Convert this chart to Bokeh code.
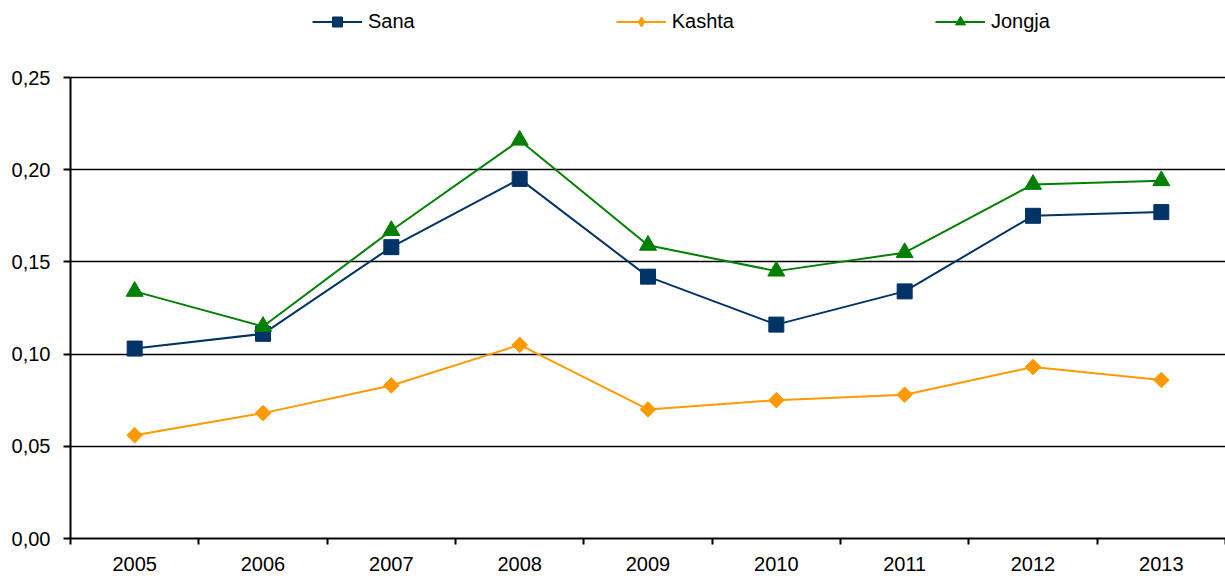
from bokeh.plotting import figure
from bokeh.embed import file_html
from bokeh.resources import INLINE
from bokeh.models import (Range1d, FixedTicker, CustomJSTickFormatter, Legend,
                          LegendItem, PrintfTickFormatter)
import math

years = [2005, 2006, 2007, 2008, 2009, 2010, 2011, 2012, 2013]
sana = [0.103, 0.111, 0.158, 0.195, 0.142, 0.116, 0.134, 0.175, 0.177]
kashta = [0.056, 0.068, 0.083, 0.105, 0.070, 0.075, 0.078, 0.093, 0.086]
jongja = [0.134, 0.115, 0.167, 0.216, 0.159, 0.145, 0.155, 0.192, 0.194]
y_ticks = [0.0, 0.05, 0.10, 0.15, 0.20, 0.25]

FONT = "Liberation Sans"
FS = "20px"

# frame covers the full height above the x axis; the axis itself is bounded to 0..0.25
FRAME_H = 538
AXIS_H = 461
y_top = y_ticks[-1] * FRAME_H / AXIS_H

p = figure(width=1225, height=576, output_backend="svg", toolbar_location=None,
           x_range=Range1d(years[0] - 0.5, years[-1] + 0.5),
           y_range=Range1d(y_ticks[0], y_top),
           min_border_left=70, min_border_right=0, min_border_top=0,
           min_border_bottom=38)
p.outline_line_color = None
p.background_fill_color = "white"

# Axes
p.yaxis.bounds = (y_ticks[0], y_ticks[-1])
p.yaxis.ticker = FixedTicker(ticks=y_ticks)
p.yaxis.formatter = CustomJSTickFormatter(code="return tick.toFixed(2).replace('.', ',');")
p.yaxis.axis_line_width = 2
p.yaxis.axis_line_color = "black"
p.yaxis.major_tick_line_color = "black"
p.yaxis.major_tick_line_width = 2
p.yaxis.major_tick_out = 7
p.yaxis.major_tick_in = 0
p.yaxis.minor_tick_line_color = None
p.yaxis.major_label_standoff = 13

p.xaxis.ticker = FixedTicker(ticks=years, minor_ticks=[y - 0.5 for y in years] + [years[-1] + 0.5])
p.xaxis.formatter = PrintfTickFormatter(format="%d")
p.xaxis.axis_line_width = 2
p.xaxis.axis_line_color = "black"
p.xaxis.major_tick_line_color = None
p.xaxis.major_tick_out = 0
p.xaxis.major_tick_in = 0
p.xaxis.minor_tick_line_color = "black"
p.xaxis.minor_tick_line_width = 2
p.xaxis.minor_tick_out = 6
p.xaxis.minor_tick_in = 0
p.xaxis.major_label_standoff = 12

for ax in (p.xaxis, p.yaxis):
    ax.major_label_text_font = FONT
    ax.major_label_text_font_size = FS
    ax.major_label_text_color = "black"

p.xgrid.grid_line_color = None
p.ygrid.ticker = FixedTicker(ticks=y_ticks)
p.ygrid.grid_line_color = "black"
p.ygrid.grid_line_width = 1.5

SANA_C, KASHTA_C, JONGJA_C = "#003366", "#FF9900", "#008000"

# Series
l1 = p.line(years, sana, line_color=SANA_C, line_width=2)
m1 = p.scatter(years, sana, marker="square", size=15, fill_color=SANA_C,
               line_color=SANA_C)
l2 = p.line(years, kashta, line_color=KASHTA_C, line_width=2)
# diamond markers used for the legend glyph (fully covered by the rotated squares below)
k_leg = p.scatter(years, kashta, marker="diamond", size=12, fill_color=KASHTA_C,
                  line_color=KASHTA_C)
m2 = p.scatter(years, kashta, marker="square", size=11, angle=math.pi / 4,
               fill_color=KASHTA_C, line_color=KASHTA_C)
l3 = p.line(years, jongja, line_color=JONGJA_C, line_width=2)
m3 = p.scatter(years, jongja, marker="triangle", size=17, fill_color=JONGJA_C,
               line_color=JONGJA_C)

legend = Legend(items=[LegendItem(label="Sana", renderers=[l1, m1]),
                       LegendItem(label="Kashta", renderers=[l2, k_leg]),
                       LegendItem(label="Jongja", renderers=[l3, m3])],
                orientation="horizontal", location=(242, 504),
                border_line_color=None, background_fill_alpha=0,
                glyph_width=50, glyph_height=25, label_standoff=6,
                label_width=0, spacing=201, padding=0, margin=0,
                label_text_font=FONT, label_text_font_size=FS,
                label_text_color="black")
p.add_layout(legend, "center")

open("out.html", "w").write(file_html(p, INLINE))
